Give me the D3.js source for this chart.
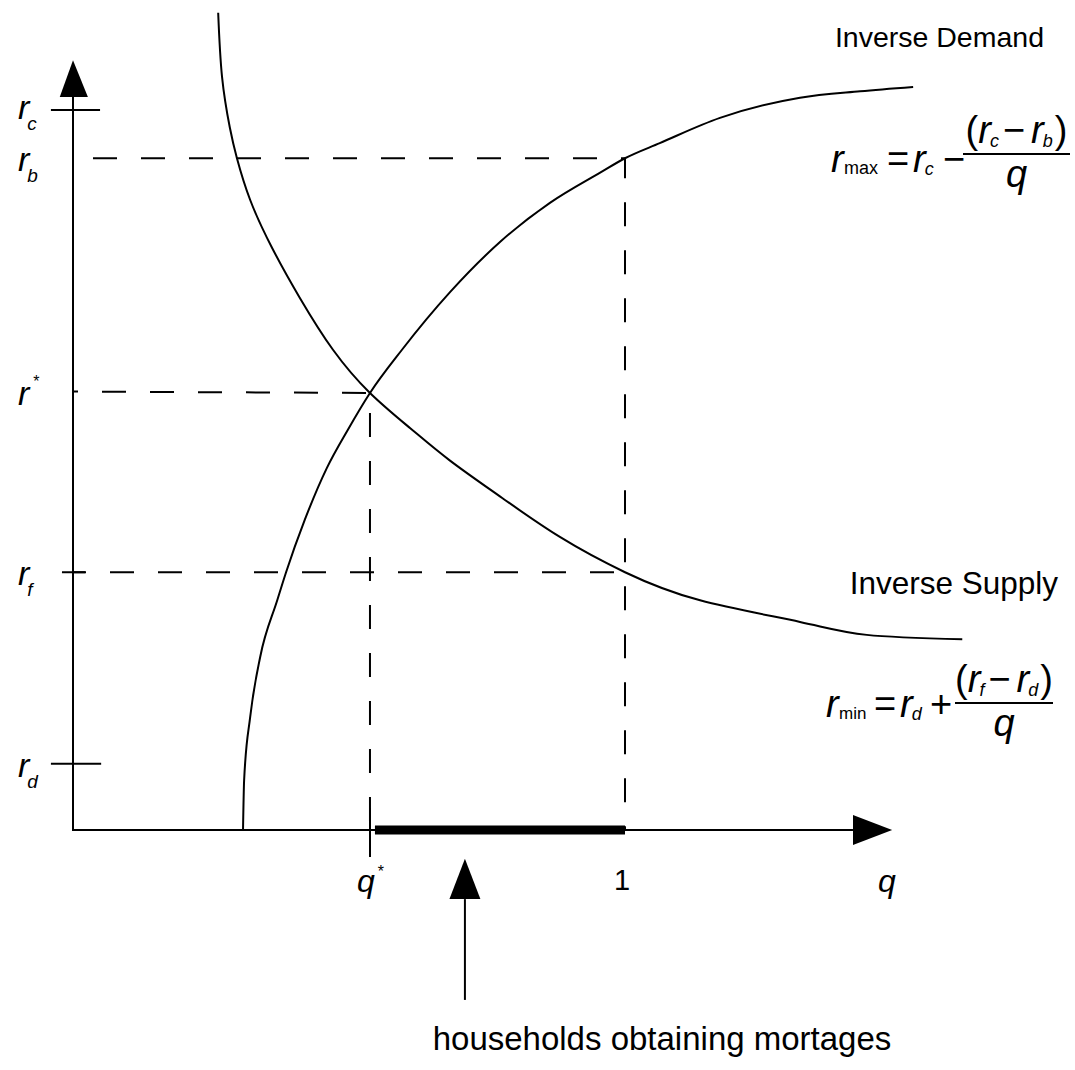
<!DOCTYPE html>
<html>
<head>
<meta charset="utf-8">
<script src="https://cdn.jsdelivr.net/npm/d3@7"></script>
<style>
  body { margin: 0; background: #fff; }
  text { font-family: "Liberation Sans", Arial, sans-serif; fill: #000; }
</style>
</head>
<body>
<div id="chart"></div>
<script>
const width = 1075;
const height = 1070;

// rising curve (r_max, inverse demand)
const demandQ = [0.308, 0.310, 0.321, 0.339, 0.370, 0.386, 0.420, 0.460, 0.498, 0.538, 0.596, 0.683, 0.774, 0.864, 0.955, 1.0, 1.063, 1.172, 1.317, 1.426, 1.522];
const demandR = [0, 6.9, 15.7, 24.0, 31.9, 35.8, 43.1, 50.3, 55.6, 60.7, 66.7, 74.7, 81.7, 87.1, 91.3, 93.3, 95.4, 98.9, 101.7, 102.6, 103.2];

// falling curve (r_min, inverse supply)
const supplyQ = [0.263, 0.270, 0.284, 0.297, 0.321, 0.361, 0.411, 0.471, 0.538, 0.611, 0.683, 0.774, 0.882, 1.0, 1.136, 1.317, 1.438, 1.611];
const supplyR = [113.5, 104.6, 97.6, 93.3, 87.5, 80.8, 73.9, 66.7, 60.7, 55.8, 51.3, 46.3, 40.7, 35.8, 31.9, 28.9, 27.1, 26.5];

// rate levels on the vertical axis
const rNames = ["c", "b", "*", "f", "d"];
const rValues = [100, 93.3, 60.7, 35.8, 9.2];

const qStar = 0.538;
const qOne = 1;
const qBarStart = 0.547;
const qArrow = 0.710;

const x = d3.scaleLinear().domain([0, 1]).range([73, 625]);
const y = d3.scaleLinear().domain([0, 100]).range([830, 110]);

const svg = d3.select("#chart")
    .append("svg")
    .attr("width", width)
    .attr("height", height);

const line = d3.line()
    .x(d => x(d[0]))
    .y(d => y(d[1]));

const rOf = name => rValues[rNames.indexOf(name)];

// dashed guides
const dashed = (pts, offset) => svg.append("path")
    .attr("d", line(pts))
    .attr("fill", "none")
    .attr("stroke", "#000")
    .attr("stroke-width", 2)
    .attr("stroke-dasharray", "24,24")
    .attr("stroke-dashoffset", offset);

dashed([[0, rOf("b")], [qOne, rOf("b")], [qOne, 0]], 28);
dashed([[0, rOf("*") + 0.2], [qStar, rOf("*")], [qStar, 0]], 19);
dashed([[0, rOf("f")], [qOne, rOf("f")]], 11);

// solid ticks
const solid = (pts, w) => svg.append("path")
    .attr("d", line(pts))
    .attr("fill", "none")
    .attr("stroke", "#000")
    .attr("stroke-width", w);

solid([[-0.04, rOf("c")], [0.049, rOf("c")]], 2);
solid([[-0.04, rOf("d")], [0.051, rOf("d")]], 2);
solid([[-0.02, rOf("f")], [0.022, rOf("f")]], 2);
solid([[qStar, 3.05], [qStar, -3.75]], 2);

// curves
svg.append("path")
    .attr("d", d3.line().x(d => x(d[0])).y(d => y(d[1])).curve(d3.curveMonotoneX)(demandQ.map((q, i) => [q, demandR[i]])))
    .attr("fill", "none").attr("stroke", "#000").attr("stroke-width", 2);
svg.append("path")
    .attr("d", d3.line().x(d => x(d[0])).y(d => y(d[1])).curve(d3.curveNatural)(supplyQ.map((q, i) => [q, supplyR[i]])))
    .attr("fill", "none").attr("stroke", "#000").attr("stroke-width", 2);

// axes
solid([[0, 101.8], [0, 0], [1.413, 0]], 2);
svg.append("path")
    .attr("d", line([[0, 106.9], [-0.024, 101.8], [0.027, 101.8]]) + "Z");
svg.append("path")
    .attr("d", line([[1.484, 0], [1.413, 2.1], [1.413, -2.1]]) + "Z");

// households segment and arrow
solid([[qBarStart, 0], [qOne, 0]], 9);
solid([[qArrow, -23.6], [qArrow, -9.6]], 2);
svg.append("path")
    .attr("d", line([[qArrow, -4.0], [qArrow - 0.028, -9.6], [qArrow + 0.028, -9.6]]) + "Z");

// y labels
const yLab = svg.append("g");
rNames.forEach((n, i) => {
    const ty = y(rValues[i]);
    const shift = n === "*" ? 12 : (n === "c" ? 9 : 13);
    const t = yLab.append("text")
        .attr("x", 18)
        .attr("y", ty + shift)
        .style("font-size", "34px")
        .style("font-style", "italic");
    t.append("tspan").text("r");
    if (n === "*") {
        t.append("tspan").attr("dx", 4).attr("dy", -18).style("font-size", "16px").style("font-style", "normal").text("*");
    } else {
        t.append("tspan").attr("dx", -2).attr("dy", 11).style("font-size", "19px").text(n);
    }
});

// x labels
svg.append("text").attr("x", x(qStar) - 13).attr("y", 892)
    .style("font-size", "32px").style("font-style", "italic")
    .text("q")
    .append("tspan").attr("dx", 3).attr("dy", -15).style("font-size", "16px").style("font-style", "normal").text("*");
svg.append("text").attr("x", x(qOne) - 3).attr("y", 890).attr("text-anchor", "middle")
    .style("font-size", "29px").text("1");
svg.append("text").attr("x", 878).attr("y", 892)
    .style("font-size", "32px").style("font-style", "italic").text("q");

svg.append("text").attr("x", 662).attr("y", 1050).attr("text-anchor", "middle")
    .style("font-size", "33px").text("households obtaining mortages");

svg.append("text").attr("x", 1044).attr("y", 47).attr("text-anchor", "end")
    .style("font-size", "28.5px").text("Inverse Demand");
svg.append("text").attr("x", 1058).attr("y", 594).attr("text-anchor", "end")
    .style("font-size", "31.5px").text("Inverse Supply");

// formulas
function formula(o) {
    const g = svg.append("g");
    const big = "38px", small = "18px";
    g.append("text").attr("x", o.x).attr("y", o.y).style("font-size", big).style("font-style", "italic").text("r");
    g.append("text").attr("x", o.x + 13).attr("y", o.y + 2).style("font-size", o.subSize).text(o.sub);
    g.append("text").attr("x", o.eqX).attr("y", o.y).style("font-size", big).text("=");
    const t = g.append("text").attr("x", o.eqX + 26).attr("y", o.y).style("font-size", big).style("font-style", "italic");
    t.append("tspan").text("r");
    t.append("tspan").attr("dx", -1).attr("dy", 3).style("font-size", small).text(o.a);
    g.append("text").attr("x", o.opX).attr("y", o.y).style("font-size", big).text(o.op);
    g.append("line").attr("x1", o.fx1).attr("x2", o.fx2).attr("y1", o.fy).attr("y2", o.fy)
        .attr("stroke", "#000").attr("stroke-width", 2);
    const num = g.append("text").attr("x", (o.fx1 + o.fx2) / 2).attr("y", o.fy - 11)
        .attr("text-anchor", "middle").style("font-size", big);
    num.append("tspan").text("(");
    num.append("tspan").style("font-style", "italic").text("r");
    num.append("tspan").attr("dx", -1).attr("dy", 4).style("font-style", "italic").style("font-size", small).text(o.n1);
    num.append("tspan").attr("dx", 4).attr("dy", -4).text("\u2212");
    num.append("tspan").attr("dx", 6).style("font-style", "italic").text("r");
    num.append("tspan").attr("dx", -1).attr("dy", 4).style("font-style", "italic").style("font-size", small).text(o.n2);
    num.append("tspan").attr("dx", 2).attr("dy", -4).text(")");
    g.append("text").attr("x", (o.fx1 + o.fx2) / 2).attr("y", o.fy + 33)
        .attr("text-anchor", "middle").style("font-size", big).style("font-style", "italic").text("q");
}

formula({ x: 831, y: 172, sub: "max", subSize: "18px", eqX: 887, a: "c", opX: 943, op: "\u2212", fx1: 963, fx2: 1070, fy: 154, n1: "c", n2: "b" });
formula({ x: 826, y: 717, sub: "min", subSize: "17px", eqX: 874, a: "d", opX: 930, op: "+", fx1: 955, fx2: 1053, fy: 703, n1: "f", n2: "d" });
</script>
</body>
</html>
